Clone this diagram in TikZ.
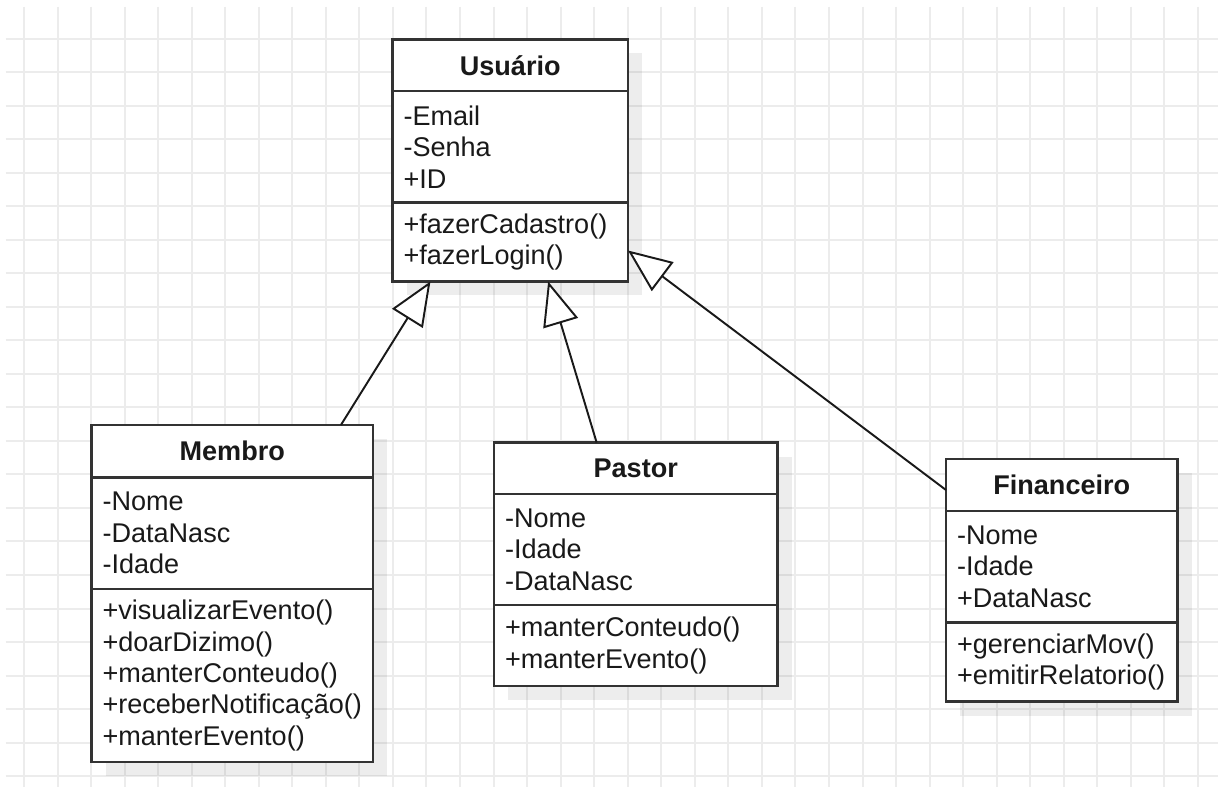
\documentclass[tikz,border=0pt]{standalone}
\usepackage{fontspec}
\setmainfont{Liberation Sans}
\usetikzlibrary{positioning, arrows.meta, fit, backgrounds, calc}

\begin{document}
\begin{tikzpicture}[
    headbox/.style={draw=black!80, line width=1.4pt, fill=white, anchor=north west,
                    inner sep=0pt, outer sep=0pt, text=black!90,
                    font=\fontsize{15.4}{17.9}\selectfont\bfseries},
    attrbox/.style={draw=black!80, line width=1.4pt, fill=white, anchor=north west,
                    inner xsep=0.22cm, inner ysep=0pt, outer sep=0pt, align=left,
                    text=black!90, font=\fontsize{15.4}{17.9}\selectfont},
    shadowbox/.style={fill=black, fill opacity=0.07, inner sep=0pt, outer sep=0pt,
                      xshift=0.28cm, yshift=-0.28cm},
    gridline/.style={draw=gray!15, line width=0.04cm},
    genarr/.style={-{Triangle[fill=white, length=0.87cm, width=0.72cm]},
                   line width=1.1pt, draw=black!90},
]
\useasboundingbox (0,0) rectangle (24.36,-15.74);

%% -- Usuario --------------------------------------------------------------
\node[headbox, minimum width=4.71cm, minimum height=1.03cm] (usuH) at (7.85,-0.79) {Usuário};
\node[attrbox, text width=4.27cm, minimum height=2.23cm] (usuA) at (usuH.south west)
    {-Email\\-Senha\\+ID};
\node[attrbox, text width=4.27cm, minimum height=1.58cm] (usuO) at (usuA.south west)
    {+fazerCadastro()\\+fazerLogin()};

%% -- Membro ---------------------------------------------------------------
\node[headbox, minimum width=5.63cm, minimum height=1.05cm] (memH) at (1.83,-8.5) {Membro};
\node[attrbox, text width=5.19cm, minimum height=2.23cm] (memA) at (memH.south west)
    {-Nome\\-DataNasc\\-Idade};
\node[attrbox, text width=5.19cm, minimum height=3.46cm] (memO) at (memA.south west)
    {+visualizarEvento()\\+doarDizimo()\\+manterConteudo()\\+receberNotificação()\\+manterEvento()};

%% -- Pastor ---------------------------------------------------------------
\node[headbox, minimum width=5.67cm, minimum height=1.03cm] (pasH) at (9.88,-8.85) {Pastor};
\node[attrbox, text width=5.23cm, minimum height=2.22cm] (pasA) at (pasH.south west)
    {-Nome\\-Idade\\-DataNasc};
\node[attrbox, text width=5.23cm, minimum height=1.62cm] (pasO) at (pasA.south west)
    {+manterConteudo()\\+manterEvento()};

%% -- Financeiro -----------------------------------------------------------
\node[headbox, minimum width=4.63cm, minimum height=1.04cm] (finH) at (18.92,-9.18) {Financeiro};
\node[attrbox, text width=4.19cm, minimum height=2.23cm] (finA) at (finH.south west)
    {-Nome\\-Idade\\+DataNasc};
\node[attrbox, text width=4.19cm, minimum height=1.58cm] (finO) at (finA.south west)
    {+gerenciarMov()\\+emitirRelatorio()};

%% -- Generalization arrows ------------------------------------------------
\draw[genarr] ($(memH.north west)!0.886!(memH.north east)$)
    -- ($(usuO.south west)!0.161!(usuO.south east)$);
\draw[genarr] ($(pasH.north west)!0.362!(pasH.north east)$)
    -- ($(usuO.south west)!0.661!(usuO.south east)$);
\draw[genarr] ($(finH.west)+(0,-0.1)$) -- ($(usuO.east)+(0,-0.17)$);

%% -- Grid and shadows -----------------------------------------------------
\begin{scope}[on background layer]
  \fill[white] (0,0) rectangle (24.36,-15.74);
  \foreach \i in {0,...,35}
    \draw[gridline] ({0.48+0.6708*\i},-0.14) -- ({0.48+0.6708*\i},-15.74);
  \foreach \j in {0,...,22}
    \draw[gridline] (0.12,{-0.78-0.67*\j}) -- (24.36,{-0.78-0.67*\j});
  \node[shadowbox, fit=(usuH)(usuO)] (usuS) {};
  \node[shadowbox, fit=(memH)(memO)] (memS) {};
  \node[shadowbox, fit=(pasH)(pasO)] (pasS) {};
  \node[shadowbox, fit=(finH)(finO)] (finS) {};
\end{scope}

\end{tikzpicture}
\end{document}
